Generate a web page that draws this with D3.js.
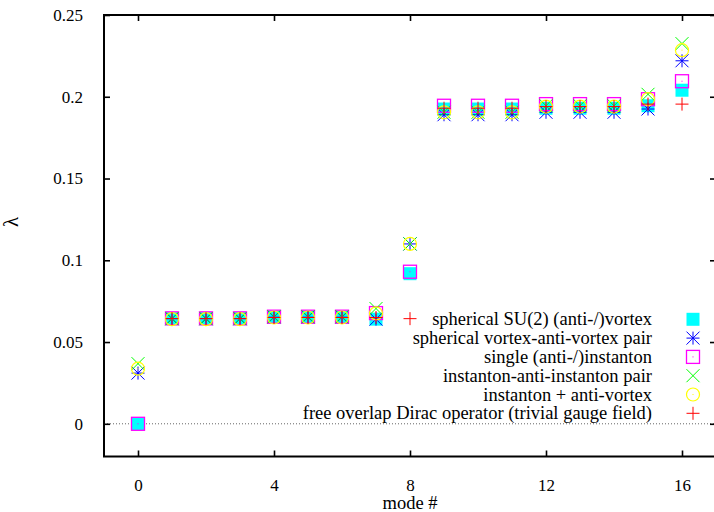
<!DOCTYPE html>
<html>
<head>
<meta charset="utf-8">
<script src="https://cdn.jsdelivr.net/npm/d3@7"></script>
<style>
    body { margin: 0; background: #fff; }
    svg { display: block; font-family: "Liberation Serif", "Times New Roman", serif; }
</style>
</head>
<body>
<div id="graf"></div>
<script>
// Datos
const modes = [0, 1, 2, 3, 4, 5, 6, 7, 8, 9, 10, 11, 12, 13, 14, 15, 16];

const su2Vortex =      [0, 0.0643, 0.0643, 0.0643, 0.0652, 0.0652, 0.0652, 0.064, 0.0918, 0.1925, 0.1925, 0.1925, 0.193, 0.193, 0.193, 0.1945, 0.204];
const vortexPair =     [0.031, 0.0643, 0.0643, 0.0643, 0.0652, 0.0652, 0.0652, 0.064, 0.110, 0.189, 0.189, 0.189, 0.1905, 0.1905, 0.1905, 0.1925, 0.222];
const singleInst =     [0, 0.0645, 0.0645, 0.0645, 0.0655, 0.0655, 0.0655, 0.0677, 0.093, 0.1945, 0.1945, 0.1945, 0.1955, 0.1955, 0.1955, 0.1985, 0.2095];
const instPair =       [0.0368, 0.0643, 0.0643, 0.0643, 0.0655, 0.0655, 0.0655, 0.0705, 0.110, 0.1905, 0.1905, 0.1905, 0.1945, 0.1945, 0.1945, 0.2015, 0.2325];
const instAntiVortex = [0.0337, 0.064, 0.064, 0.064, 0.065, 0.065, 0.065, 0.0675, 0.110, 0.1905, 0.1905, 0.1905, 0.194, 0.194, 0.194, 0.1985, 0.2285];
const freeOverlap =    [null, 0.0643, 0.0643, 0.0643, 0.065, 0.065, 0.065, 0.065, 0.0643, 0.193, 0.193, 0.193, 0.194, 0.194, 0.194, 0.1955, 0.1955];

const seriesNames = [
    "spherical SU(2) (anti-/)vortex",
    "spherical vortex-anti-vortex pair",
    "single (anti-/)instanton",
    "instanton-anti-instanton pair",
    "instanton + anti-vortex",
    "free overlap Dirac operator (trivial gauge field)",
];
const seriesValues = [su2Vortex, vortexPair, singleInst, instPair, instAntiVortex, freeOverlap];
const seriesColors = ["#00ffff", "#0000ff", "#ff00ff", "#00ff00", "#ffff00", "#ff0000"];
const seriesSymbols = ["filledSquare", "asterisk", "openSquare", "cross", "openCircle", "plus"];

const xTicks = [0, 4, 8, 12, 16];
const yTicks = [0, 0.05, 0.1, 0.15, 0.2, 0.25];
const yTickLabels = ["0", "0.05", "0.1", "0.15", "0.2", "0.25"];

// Dimensiones
const anchoTotal = 714;
const altoTotal = 512;
const margins = { top: 15, right: -2, bottom: 55.5, left: 104 };
const ancho = anchoTotal - margins.left - margins.right;
const alto = altoTotal - margins.top - margins.bottom;
const tickFont = 17;
const textFont = 18.5;

const svg = d3.select("#graf")
    .append("svg")
    .attr("width", anchoTotal)
    .attr("height", altoTotal);
svg.append("rect").attr("width", anchoTotal).attr("height", altoTotal).attr("fill", "white");

const g = svg.append("g").attr("transform", `translate(${margins.left}, ${margins.top})`);

// Escaladores
const x = d3.scaleLinear().domain([-1, 17]).range([0, ancho]);
const y = d3.scaleLinear().domain([-0.02, 0.25]).range([alto, 0]);

// Línea de cero punteada
g.append("line")
    .attr("x1", 0).attr("x2", ancho)
    .attr("y1", y(0)).attr("y2", y(0))
    .attr("stroke", "#666")
    .attr("stroke-width", 1)
    .attr("stroke-dasharray", "1,2");

// Ejes
const xAxis = d3.axisBottom(x).tickValues(xTicks).tickSize(-6).tickPadding(22).tickFormat(d3.format("d"));
const yAxis = d3.axisLeft(y).tickValues(yTicks).tickSize(-6).tickPadding(21).tickFormat((d, i) => yTickLabels[i]);
const xTop = d3.axisTop(x).tickValues(xTicks).tickSize(-6).tickFormat("");
const yRight = d3.axisRight(y).tickValues(yTicks).tickSize(-6).tickFormat("");

const ejes = [
    g.append("g").attr("transform", `translate(0, ${alto})`).call(xAxis),
    g.append("g").call(yAxis),
    g.append("g").call(xTop),
    g.append("g").attr("transform", `translate(${ancho}, 0)`).call(yRight),
];
ejes.forEach((a) => {
    a.select(".domain").remove();
    a.selectAll(".tick line").attr("stroke", "#000").attr("stroke-width", 1.6);
    a.selectAll(".tick text").attr("fill", "#000").style("font-size", tickFont + "px").style("font-family", "Liberation Serif");
});

// Marco
g.append("rect")
    .attr("width", ancho).attr("height", alto)
    .attr("fill", "none").attr("stroke", "#000").attr("stroke-width", 2);

// Etiquetas de ejes
svg.append("text")
    .attr("x", margins.left + ancho / 2)
    .attr("y", 509)
    .attr("text-anchor", "middle")
    .style("font-size", textFont + "px")
    .text("mode #");

svg.append("text")
    .attr("transform", "translate(18, 222) rotate(-90)")
    .attr("text-anchor", "middle")
    .style("font-size", "21px")
    .text("λ");

// Símbolos tipo gnuplot
const h = 6.5;
const simbolos = {
    filledSquare: (s, c) => s.append("rect").attr("x", -h).attr("y", -h).attr("width", 2 * h).attr("height", 2 * h).attr("fill", c),
    asterisk: (s, c) => s.append("path")
        .attr("d", `M${-h},0H${h}M0,${-h}V${h}M${-h},${-h}L${h},${h}M${-h},${h}L${h},${-h}`)
        .attr("stroke", c).attr("fill", "none"),
    openSquare: (s, c) => {
        s.append("rect").attr("x", -h).attr("y", -h).attr("width", 2 * h).attr("height", 2 * h)
            .attr("fill", "none").attr("stroke", c).attr("stroke-width", 1.3);
        s.append("rect").attr("x", -0.5).attr("y", -0.5).attr("width", 1).attr("height", 1).attr("fill", c);
    },
    cross: (s, c) => s.append("path")
        .attr("d", `M${-h},${-h}L${h},${h}M${-h},${h}L${h},${-h}`)
        .attr("stroke", c).attr("fill", "none"),
    openCircle: (s, c) => {
        s.append("circle").attr("r", h).attr("fill", "none").attr("stroke", c).attr("stroke-width", 1.2);
        s.append("rect").attr("x", -0.5).attr("y", -0.5).attr("width", 1).attr("height", 1).attr("fill", c);
    },
    plus: (s, c) => s.append("path")
        .attr("d", `M${-h},0H${h}M0,${-h}V${h}`)
        .attr("stroke", c).attr("fill", "none"),
};

// Puntos (en el orden del gráfico original)
seriesValues.forEach((vals, i) => {
    const puntos = modes
        .map((m, j) => ({ mode: m, value: vals[j] }))
        .filter((d) => d.value !== null);
    g.append("g")
        .selectAll("g")
        .data(puntos)
        .enter()
        .append("g")
        .attr("transform", (d) => `translate(${x(d.mode)}, ${y(d.value)})`)
        .each(function () {
            simbolos[seriesSymbols[i]](d3.select(this), seriesColors[i]);
        });
});

// Leyenda
const legendTop = 319.3;
const legendStep = 18.8;
const legendTextX = 652;
const legendSymX = 693;
const leyenda = svg.append("g");
seriesNames.forEach((name, i) => {
    const yy = legendTop + i * legendStep;
    leyenda.append("text")
        .attr("x", legendTextX)
        .attr("y", yy)
        .attr("dy", "0.33em")
        .attr("text-anchor", "end")
        .style("font-size", textFont + "px")
        .text(name);
    simbolos[seriesSymbols[i]](
        leyenda.append("g").attr("transform", `translate(${legendSymX}, ${yy})`),
        seriesColors[i]
    );
});
</script>
</body>
</html>
